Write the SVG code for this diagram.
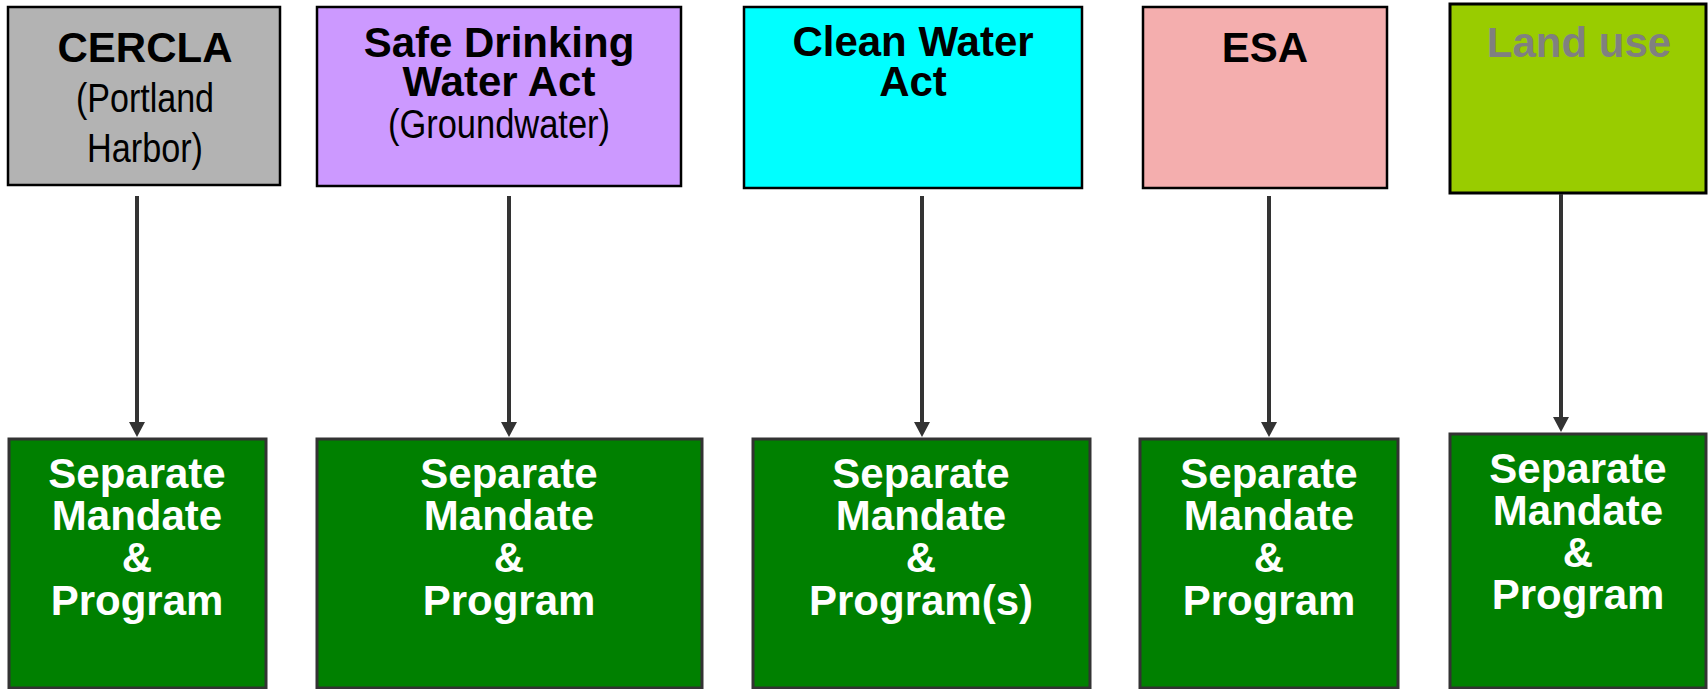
<svg xmlns="http://www.w3.org/2000/svg" width="1708" height="689" viewBox="0 0 1708 689">
<defs>
<style>
.t{font-family:"Liberation Sans",Arial,sans-serif;text-anchor:middle}
.b{font-weight:bold;font-size:42px}
.r{font-size:40px}
.top{stroke:#000;stroke-width:2.5}
.grn{fill:#008000;stroke:#333;stroke-width:3}
.w{fill:#fff}
.conn{stroke:#333;stroke-width:4;fill:none;marker-end:url(#ah)}
</style>
<marker id="ah" viewBox="0 0 16 16" refX="8" refY="16" markerWidth="16" markerHeight="16" markerUnits="userSpaceOnUse" orient="auto-start-reverse">
<path d="M0,0 L16,0 L8,16 Z" fill="#333" transform="rotate(-90 8 8)"/>
</marker>
</defs>
<rect width="1708" height="689" fill="#fff"/>

<g id="cercla">
<rect class="top" x="8" y="7" width="272" height="178" fill="#b3b3b3"/>
<text class="t b" x="145" y="62">CERCLA</text>
<text class="t r" x="145" y="112" textLength="138" lengthAdjust="spacingAndGlyphs">(Portland</text>
<text class="t r" x="145" y="162" textLength="116" lengthAdjust="spacingAndGlyphs">Harbor)</text>
</g>
<g id="sdwa">
<rect class="top" x="317" y="7" width="364" height="179" fill="#cc99ff"/>
<text class="t b" x="499" y="57">Safe Drinking</text>
<text class="t b" x="499" y="96">Water Act</text>
<text class="t r" x="499" y="138" textLength="222" lengthAdjust="spacingAndGlyphs">(Groundwater)</text>
</g>
<g id="cwa">
<rect class="top" x="744" y="7" width="338" height="181" fill="#00ffff"/>
<text class="t b" x="913" y="56">Clean Water</text>
<text class="t b" x="913" y="96">Act</text>
</g>
<g id="esa">
<rect class="top" x="1143" y="7" width="244" height="181" fill="#f4aeae"/>
<text class="t b" x="1265" y="62">ESA</text>
</g>
<g id="landuse">
<rect x="1450" y="4" width="256" height="189" fill="#99cc00" stroke="#000" stroke-width="3"/>
<text class="t b" x="1579" y="57" fill="#808080">Land use</text>
</g>

<g id="prog1">
<rect class="grn" x="9" y="439" width="257" height="249"/>
<text class="t b w" x="137" y="488">Separate</text>
<text class="t b w" x="137" y="530">Mandate</text>
<text class="t b w" x="137" y="572">&amp;</text>
<text class="t b w" x="137" y="615">Program</text>
</g>
<g id="prog2">
<rect class="grn" x="317" y="439" width="385" height="249"/>
<text class="t b w" x="509" y="488">Separate</text>
<text class="t b w" x="509" y="530">Mandate</text>
<text class="t b w" x="509" y="572">&amp;</text>
<text class="t b w" x="509" y="615">Program</text>
</g>
<g id="prog3">
<rect class="grn" x="753" y="439" width="337" height="249"/>
<text class="t b w" x="921" y="488">Separate</text>
<text class="t b w" x="921" y="530">Mandate</text>
<text class="t b w" x="921" y="572">&amp;</text>
<text class="t b w" x="921" y="615">Program(s)</text>
</g>
<g id="prog4">
<rect class="grn" x="1140" y="439" width="258" height="249"/>
<text class="t b w" x="1269" y="488">Separate</text>
<text class="t b w" x="1269" y="530">Mandate</text>
<text class="t b w" x="1269" y="572">&amp;</text>
<text class="t b w" x="1269" y="615">Program</text>
</g>
<g id="prog5">
<rect class="grn" x="1450" y="434" width="256" height="254"/>
<text class="t b w" x="1578" y="483">Separate</text>
<text class="t b w" x="1578" y="525">Mandate</text>
<text class="t b w" x="1578" y="567">&amp;</text>
<text class="t b w" x="1578" y="609">Program</text>
</g>

<g id="connectors" fill="#333">
<line x1="137" y1="196" x2="137" y2="423" stroke="#333" stroke-width="4"/>
<path d="M129,422 L145,422 L137,437 Z"/>
<line x1="509" y1="196" x2="509" y2="423" stroke="#333" stroke-width="4"/>
<path d="M501,422 L517,422 L509,437 Z"/>
<line x1="922" y1="196" x2="922" y2="423" stroke="#333" stroke-width="4"/>
<path d="M914,422 L930,422 L922,437 Z"/>
<line x1="1269" y1="196" x2="1269" y2="423" stroke="#333" stroke-width="4"/>
<path d="M1261,422 L1277,422 L1269,437 Z"/>
<line x1="1561" y1="194" x2="1561" y2="418" stroke="#333" stroke-width="4"/>
<path d="M1553,417 L1569,417 L1561,432 Z"/>
</g>
</svg>
